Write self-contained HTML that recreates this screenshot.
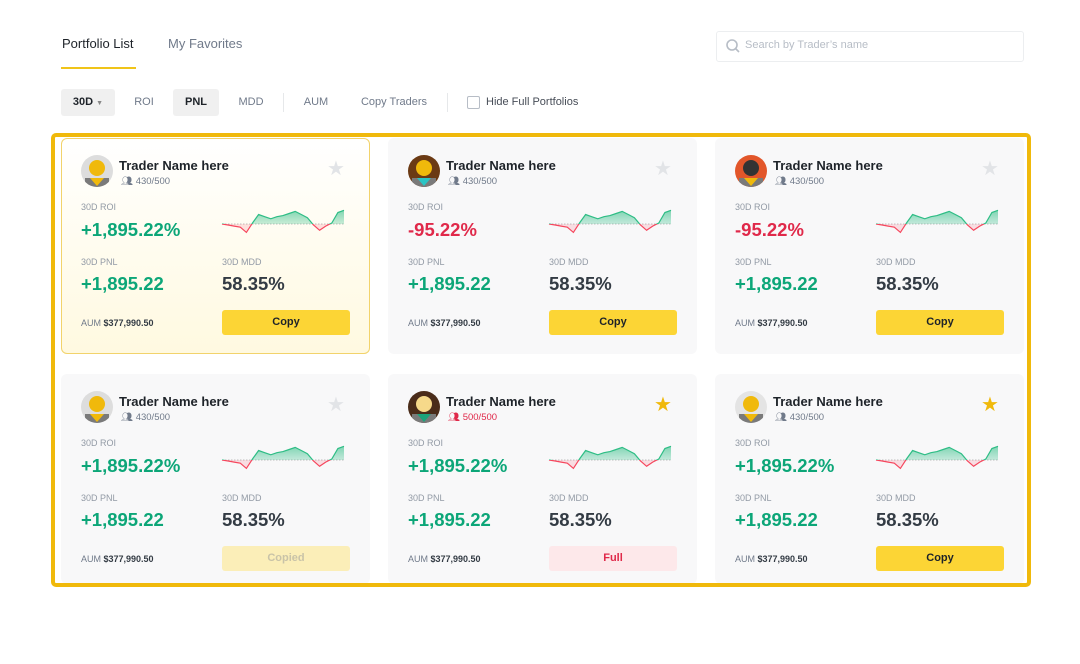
<!DOCTYPE html>
<html><head><meta charset="utf-8">
<style>
*{box-sizing:border-box;margin:0;padding:0}
body{width:1080px;height:664px;background:#fff;font-family:"Liberation Sans",sans-serif;position:relative;overflow:hidden;color:#1e2329}
.abs{position:absolute}
.tab{position:absolute;top:36px;font-size:13px}
.flt{position:absolute;top:89px;height:27px;line-height:27px;font-size:11px;color:#707a8a;text-align:center;border-radius:3px}
.flt.on{background:#f0f0f0;color:#1e2329;font-weight:bold}
.sep{position:absolute;top:93px;width:1px;height:19px;background:#e6e8ea}
.card{position:absolute;width:309px;background:#f8f8f9;border-radius:6px}
.card.hl{background:linear-gradient(#fff,#fff9e0);box-shadow:inset 0 0 0 1px #f2d36b}
.name{position:absolute;font-size:13px;font-weight:bold;color:#1e2329}
.cnt{position:absolute;font-size:9.5px;color:#707a8a}
.lbl{position:absolute;font-size:9px;color:#929aa5}
.big{position:absolute;font-size:18.5px;font-weight:bold}
.g{color:#0ca678}.r{color:#e0294a}.d{color:#333b44}
.aum{position:absolute;font-size:9px;color:#707a8a}
.aum b{color:#333b44}
.btn{position:absolute;width:128px;height:25px;border-radius:3px;font-size:11px;font-weight:bold;text-align:center;line-height:25px}
</style></head><body>
<div class="tab" style="left:62px;color:#1e2329">Portfolio List</div>
<div class="abs" style="left:61px;top:67px;width:75px;height:2px;background:#f0c419"></div>
<div class="tab" style="left:168px;color:#707a8a">My Favorites</div>
<div class="abs" style="left:716px;top:31px;width:308px;height:31px;border:1px solid #eceef0;border-radius:3px">
<svg class="abs" style="left:8px;top:6px" width="16" height="16"><circle cx="7" cy="7" r="5" stroke="#b7bdc6" stroke-width="1.6" fill="none"/><line x1="11" y1="11" x2="14" y2="14" stroke="#b7bdc6" stroke-width="1.6"/></svg>
<span class="abs" style="left:28px;top:7px;font-size:11px;color:#b7bdc6">Search by Trader’s name</span></div>
<div class="flt on" style="left:61px;width:54px">30D <span style="font-size:7px;color:#888">▼</span></div>
<div class="flt" style="left:124px;width:40px">ROI</div>
<div class="flt on" style="left:173px;width:46px">PNL</div>
<div class="flt" style="left:228px;width:46px">MDD</div>
<div class="sep" style="left:283px"></div>
<div class="flt" style="left:294px;width:44px">AUM</div>
<div class="flt" style="left:354px;width:80px">Copy Traders</div>
<div class="sep" style="left:447px"></div>
<div class="abs" style="left:467px;top:96px;width:13px;height:13px;border:1px solid #b7bdc6;border-radius:2px"></div>
<div class="flt" style="left:486px;width:100px;color:#474d57;text-align:left">Hide Full Portfolios</div>
<div id="grid"></div>
<div class="abs" style="left:51px;top:133px;width:980px;height:454px;border:4px solid #f0b90b;border-radius:5px"></div>
<script>
const sparkValues=[0,-1,-2,-3,-8,1,9,7,5,7,8,10,12,9,6,-1,-6,-2,1,11,13];
const roiTexts=["+1,895.22%","-95.22%","-95.22%","+1,895.22%","+1,895.22%","+1,895.22%"];
const counts=["430/500","430/500","430/500","430/500","500/500","430/500"];
const buttons=["Copy","Copy","Copy","Copied","Full","Copy"];
const stars=[0,0,0,0,1,1];
const avatars=[["#f0b90b","#ddd","#f0b90b"],["#f0b90b","#6b3a14","#2bc4c4"],["#333","#e2562a","#f0b90b"],["#f0b90b","#ddd","#f0b90b"],["#f6d98a","#4a2c1a","#1ba37a"],["#f0b90b","#e4e4e4","#f0b90b"]];
const grid=document.getElementById('grid');
const X0=222,X1=344,BASE=224-138,SC=1.05;
function sx(i){return X0-61+i*(X1-X0)/(sparkValues.length-1)}
function sy(v){return BASE-v*SC}
function spark(){
 let pts=sparkValues.map((v,i)=>sx(i).toFixed(1)+','+sy(v).toFixed(1)).join(' ');
 let area=sx(0)+','+BASE+' '+pts+' '+sx(sparkValues.length-1)+','+BASE;
 return `<svg class="abs" style="left:0;top:0" width="309" height="220">
 <defs><clipPath id="up"><rect x="0" y="0" width="309" height="${BASE}"/></clipPath><clipPath id="dn"><rect x="0" y="${BASE}" width="309" height="60"/></clipPath>
 <linearGradient id="gg" x1="0" y1="0" x2="0" y2="1"><stop offset="0" stop-color="#2ebd85" stop-opacity=".6"/><stop offset="1" stop-color="#2ebd85" stop-opacity=".05"/></linearGradient></defs>
 <line x1="${sx(0)}" y1="${BASE}" x2="${sx(sparkValues.length-1)}" y2="${BASE}" stroke="#aaa" stroke-dasharray="1.5,1.5" stroke-width=".8"/>
 <polygon points="${area}" fill="url(#gg)" clip-path="url(#up)"/>
 <polygon points="${area}" fill="#f6465d" fill-opacity=".15" clip-path="url(#dn)"/>
 <polyline points="${pts}" fill="none" stroke="#2ebd85" stroke-width="1.2" clip-path="url(#up)"/>
 <polyline points="${pts}" fill="none" stroke="#f6465d" stroke-width="1.2" clip-path="url(#dn)"/></svg>`;
}
for(let k=0;k<6;k++){
 const col=k%3,row=Math.floor(k/3);
 const c=document.createElement('div');
 
 
 c.className='card'+(k==0?' hl':'');
 c.style.left=(61+col*327)+'px';c.style.top=(138+row*236)+'px';c.style.height=(row?210:216)+'px';
 const a=avatars[k],neg=roiTexts[k][0]=='-';
 let bs=buttons[k]=='Copy'?'background:#fcd535;color:#1e2329':buttons[k]=='Full'?'background:#fde8ea;color:#e0294a':'background:#fbeeb8;color:#c9c3a8';
 c.innerHTML=`
 <svg class="abs" style="left:20px;top:17px" width="32" height="32"><defs><clipPath id="av${k}"><circle cx="16" cy="16" r="16"/></clipPath></defs><g clip-path="url(#av${k})"><rect width="32" height="32" fill="${a[1]}"/><circle cx="16" cy="13" r="8" fill="${a[0]}"/><rect x="4" y="23" width="24" height="10" fill="#7a7a7a"/><polygon points="9,23 23,23 16,31" fill="${a[2]}"/></g></svg>
 <div class="name" style="left:58px;top:20px">Trader Name here</div>
 <div class="cnt" style="left:60px;top:38px;${counts[k]=='500/500'?'color:#e0294a':''}">👥&#xFE0E; ${counts[k]}</div>
 <div class="abs" style="left:266px;top:18px;font-size:20px;color:${stars[k]?'#f0b90b':'#e2e4e7'}">★</div>
 <div class="lbl" style="left:20px;top:64px">30D ROI</div>
 <div class="big ${neg?'r':'g'}" style="left:20px;top:81px">${roiTexts[k]}</div>
 ${spark()}
 <div class="lbl" style="left:20px;top:119px">30D PNL</div>
 <div class="big g" style="left:20px;top:135px">+1,895.22</div>
 <div class="lbl" style="left:161px;top:119px">30D MDD</div>
 <div class="big d" style="left:161px;top:135px">58.35%</div>
 <div class="aum" style="left:20px;top:180px">AUM <b>$377,990.50</b></div>
 <div class="btn" style="left:161px;top:172px;${bs}">${buttons[k]}</div>`;
 grid.appendChild(c);
}
</script>
</body></html>
